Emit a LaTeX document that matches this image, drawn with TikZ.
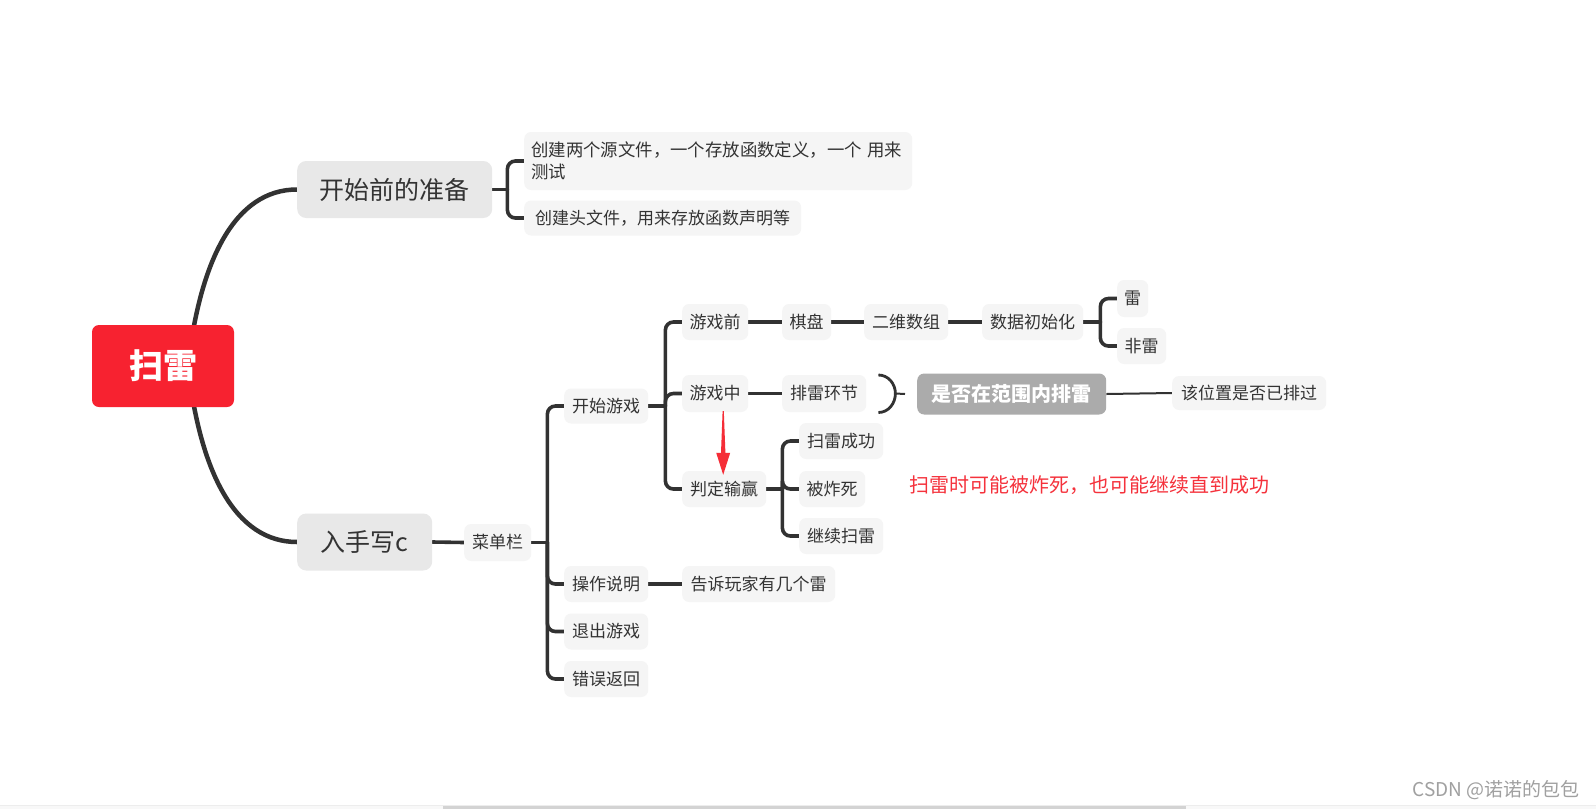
\documentclass[tikz,border=0pt]{standalone}
\usepackage{fontspec}
\newfontfamily\cjk{Noto Sans CJK SC}
\usetikzlibrary{calc}
\pgfdeclarelayer{bg}
\pgfdeclarelayer{paper}
\pgfsetlayers{paper,bg,main}
\definecolor{rootred}{RGB}{247,34,48}
\definecolor{ink}{RGB}{51,51,51}
\definecolor{linec}{RGB}{50,50,50}
\definecolor{leaffill}{RGB}{245,245,245}
\definecolor{mainfill}{RGB}{232,232,232}
\definecolor{rangefill}{RGB}{171,171,171}
\definecolor{notered}{RGB}{245,50,60}
\definecolor{arrowred}{RGB}{245,45,55}
\definecolor{wmgray}{RGB}{160,160,160}
\tikzset{
  box/.style={anchor=west, rounded corners=7pt, inner sep=0pt, fill=leaffill, text=ink,
    font=\cjk\fontsize{17}{22}\selectfont, minimum height=36pt},
  mainbox/.style={box, fill=mainfill, rounded corners=9pt, minimum height=57pt,
    font=\cjk\fontsize{25}{30}\selectfont},
  conn/.style={draw=linec, line width=3.6pt, line cap=round},
  rootconn/.style={draw=linec, line width=4.5pt},
  thinconn/.style={draw=linec, line width=2pt},
  brk/.style={conn, rounded corners=8pt}
}
\begin{document}
\begin{tikzpicture}[x=1pt,y=-1pt]
\begin{pgfonlayer}{paper}
\fill[white] (0,0) rectangle (1596,809);
\end{pgfonlayer}
\useasboundingbox (0,0) rectangle (1596,809);

% root
\node[fill=rootred, rounded corners=7pt, minimum width=142pt, minimum height=82pt, inner sep=0pt,
  text=white, font=\cjk\bfseries\fontsize{34}{40}\selectfont] (root) at (163,366) {扫雷};

% first level
\node[mainbox, minimum width=195pt] (prep) at (297,189.5) {开始前的准备};
\node[mainbox, minimum width=135pt] (hand) at (297,542) {入手写c};

% preparation leaves
\node[box, minimum width=388pt, minimum height=58pt, text width=374pt, align=left] (leaf1) at (524,161)
  {\fontsize{17.4}{22}\selectfont 创建两个源文件，一个存放函数定义，一个 用来\\测试};
\node[box, minimum width=277pt, minimum height=35pt] (leaf2) at (524,218) {创建头文件，用来存放函数声明等};

% menu
\node[box, minimum width=67pt, minimum height=37pt] (menu) at (464,542.5) {菜单栏};
\node[box, minimum width=84pt, minimum height=35pt] (start) at (564,406) {开始游戏};
\node[box, minimum width=84pt] (op) at (564,584) {操作说明};
\node[box, minimum width=84pt] (quit) at (564,631.5) {退出游戏};
\node[box, minimum width=84pt] (err) at (564,679) {错误返回};
\node[box, minimum width=153pt] (tell) at (682,584) {告诉玩家有几个雷};

% game start
\node[box, minimum width=66pt] (pre) at (682,322) {游戏前};
\node[box, minimum width=49pt] (board) at (782,322) {棋盘};
\node[box, minimum width=84pt] (arr) at (864,322) {二维数组};
\node[box, minimum width=101pt] (init) at (982,322) {数据初始化};
\node[box, minimum width=31pt, minimum height=37pt] (mine) at (1117,298.5) {雷};
\node[box, minimum width=49pt] (nomine) at (1117,346) {非雷};

\node[box, minimum width=66pt, minimum height=37pt] (mid) at (682,393.5) {游戏中};
\node[box, minimum width=84pt, minimum height=37pt] (sweep) at (782,393.5) {排雷环节};
\node[box, fill=rangefill, minimum width=189pt, minimum height=41pt, text=white,
  font=\cjk\bfseries\fontsize{20}{24}\selectfont] (range) at (917,394) {是否在范围内排雷};
\node[box, minimum width=154pt, minimum height=34pt] (done) at (1172,393) {该位置是否已排过};

\node[box, minimum width=84pt] (judge) at (682,489) {判定输赢};
\node[box, minimum width=84pt] (win) at (799,441) {扫雷成功};
\node[box, minimum width=66pt] (die) at (799,489) {被炸死};
\node[box, minimum width=84pt] (cont) at (799,536) {继续扫雷};

\node[anchor=west, inner sep=0pt, text=notered, font=\cjk\fontsize{20}{24}\selectfont] (note)
  at (909,485) {扫雷时可能被炸死，也可能继续直到成功};

% connectors
\begin{pgfonlayer}{bg}
\draw[rootconn] ($(root.center)+(25,0)$) .. controls ($(root.center)+(37,-106)$) and ($(prep.west)+(-62,0)$) .. (prep.west);
\draw[rootconn] ($(root.center)+(25,0)$) .. controls ($(root.center)+(37,106)$) and ($(hand.west)+(-62,0)$) .. (hand.west);

\draw[conn] (prep.east) -- ++(15,0) coordinate (j1);
\draw[brk] (j1) |- (leaf1.west);
\draw[brk] (j1) |- (leaf2.west);

\draw[conn] (hand.east) -- (menu.west);
\draw[conn] (menu.east) -- ++(16,0) coordinate (j2);
\draw[brk] (j2) |- (start.west);
\draw[brk] (j2) |- (op.west);
\draw[brk] (j2) |- (quit.west);
\draw[brk] (j2) |- (err.west);
\draw[conn] (op.east) -- (tell.west);

\draw[conn] (start.east) -- ++(17,0) coordinate (j3);
\draw[brk] (j3) |- (pre.west);
\draw[brk] (j3) |- (mid.west);
\draw[brk] (j3) |- (judge.west);

\draw[conn] (pre.east) -- (board.west);
\draw[conn] (board.east) -- (arr.west);
\draw[conn] (arr.east) -- (init.west);
\draw[conn] (init.east) -- ++(17,0) coordinate (j5);
\draw[brk] (j5) |- (mine.west);
\draw[brk] (j5) |- (nomine.west);

\draw[conn] (mid.east) -- (sweep.west);
\coordinate (b1) at ($(sweep.east)+(12,-18.5)$);
\coordinate (b2) at ($(sweep.east)+(29,0)$);
\coordinate (b3) at ($(sweep.east)+(12,19)$);
\coordinate (b4) at ($(range.west)+(-12,0)$);
\draw[draw=linec, line width=2.8pt] (b1) to[out=0,in=90] (b2) to[out=-90,in=0] (b3);
\draw[draw=linec, line width=2pt] (b2) -- (b4);
\draw[thinconn] (range.east) -- (done.west);

\draw[conn] (judge.east) -- ++(16,0) coordinate (j4);
\draw[brk] (j4) |- (win.west);
\draw[brk] (j4) |- (die.west);
\draw[brk] (j4) |- (cont.west);
\end{pgfonlayer}

% red arrow
\coordinate (a1) at ($(mid.south)+(8,-1)$);
\coordinate (a2) at ($(judge.north)+(-1,4)$);
\fill[arrowred] ($(a1)+(-0.6,0)$) -- ($(a1)+(0.6,0)$) -- ($(a2)+(2.2,-22)$) -- ($(a2)+(7,-22)$)
  -- (a2) -- ($(a2)+(-7,-22)$) -- ($(a2)+(-2.2,-22)$) -- cycle;

% bottom scrollbar and watermark
\fill[color={rgb,255:red,237;green,237;blue,237}] (0,804.5) rectangle (1596,805.5);
\fill[color={rgb,255:red,248;green,248;blue,248}] (0,805.5) rectangle (1596,809);
\fill[color={rgb,255:red,211;green,211;blue,211}] (443,805.5) rectangle (1186,809);
\node[anchor=east, inner sep=0pt, text=wmgray, font=\cjk\fontsize{19}{22}\selectfont] (wm) at (1580,790) {CSDN @诺诺的包包};
\end{tikzpicture}
\end{document}
